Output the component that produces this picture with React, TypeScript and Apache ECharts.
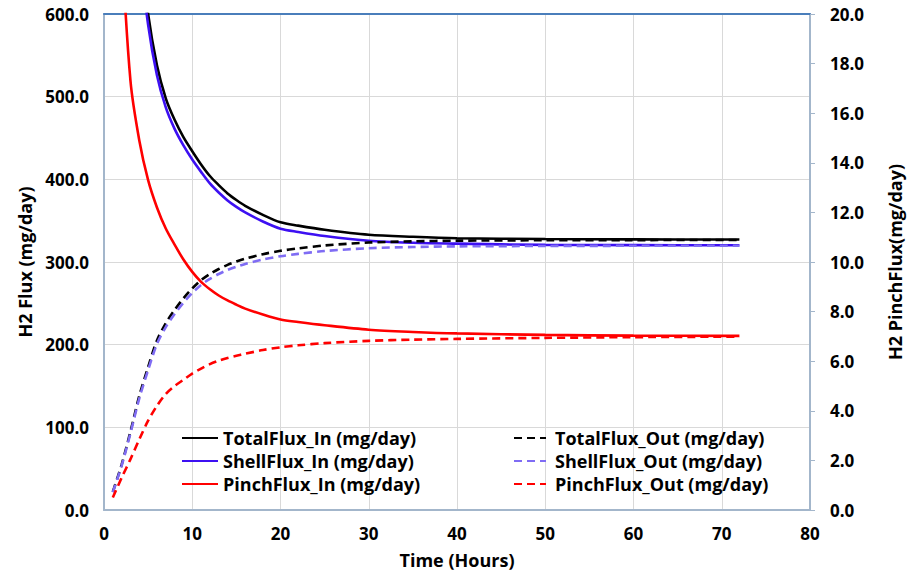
import React, { useEffect, useRef } from "react";
import * as echarts from "echarts";

// Sampled time points (hours)
const hours = [1, 2, 3, 4, 5, 6, 7, 8, 9, 10, 11, 12, 13, 14, 15, 16, 18, 20, 22, 25, 30, 35, 40, 50, 60, 72];

// Left axis series (mg/day)
const totalFluxIn = [1375, 1045, 835, 695, 600, 538, 498, 472, 451, 434, 418, 404, 393, 383, 375, 368, 357, 348, 344, 339, 333, 330.5, 328.8, 327.8, 327.4, 327.2];
const shellFluxIn = [1343, 1022, 817, 680, 587, 526, 487, 461, 441, 424, 409, 395, 384, 374.5, 366.7, 360, 349, 340.3, 336.4, 331.5, 325.7, 323.3, 322.2, 320.7, 320.4, 320.2];
const totalFluxOut = [22, 55, 95, 138, 173, 205, 226, 242, 256, 268, 278, 285.5, 291.5, 296.5, 300.5, 304, 309.5, 313.5, 316.4, 320, 323.5, 325, 325.8, 326.3, 326.5, 326.6];
const shellFluxOut = [21.5, 53.7, 93, 135, 169.4, 200.8, 221.3, 237, 250.7, 262.5, 272.3, 279.6, 285.5, 290.4, 294.3, 297.7, 303.1, 307, 309.8, 313.3, 316.7, 318.1, 318.9, 319.4, 319.6, 319.7];

// Right axis series (mg/day)
const pinchFluxIn = [32, 23, 17.3, 14.9, 13.3, 12.2, 11.35, 10.7, 10.1, 9.6, 9.2, 8.9, 8.65, 8.45, 8.28, 8.12, 7.88, 7.68, 7.58, 7.45, 7.27, 7.18, 7.12, 7.06, 7.03, 7.02];
const pinchFluxOut = [0.5, 1.3, 2.05, 2.85, 3.6, 4.2, 4.68, 5.0, 5.25, 5.5, 5.7, 5.88, 6.02, 6.13, 6.22, 6.3, 6.45, 6.56, 6.64, 6.73, 6.82, 6.87, 6.9, 6.94, 6.97, 6.99];

const FONT = "Open Sans";
const AXIS_GREY = "#a3b6cb";
const GRID_GREY = "#d9d9d9";

const pairs = (vals: number[]) => hours.map((h, i) => [h, vals[i]]);

function lineSeries(name: string, vals: number[], color: string, dashed: boolean, yAxisIndex: number) {
  return {
    name,
    type: "line",
    yAxisIndex,
    data: pairs(vals),
    smooth: 0.3,
    symbol: "none",
    clip: true,
    lineStyle: { color, width: 2.6, type: dashed ? [8, 5] : "solid" },
    itemStyle: { color },
  };
}

export default function App() {
  const ref = useRef<HTMLDivElement>(null);

  useEffect(() => {
    if (!ref.current) return;
    const chart = echarts.init(ref.current, undefined, { renderer: "svg" });
    const labelStyle = { color: "#000", fontFamily: FONT, fontWeight: "bold" as const, fontSize: 17 };
    const nameStyle = { color: "#000", fontFamily: FONT, fontWeight: "bold" as const, fontSize: 18 };
    const legendBase = {
      orient: "vertical",
      top: 424,
      itemHeight: 14,
      itemGap: 5,
      selectedMode: false,
      itemStyle: { opacity: 0 },
    };
    const legendText = { color: "#000", fontFamily: FONT, fontWeight: "bold", fontSize: 18 };

    chart.setOption({
      animation: false,
      backgroundColor: "#fff",
      grid: { left: 104, right: 102, top: 14, bottom: 64 },
      legend: [
        {
          ...legendBase,
          left: 176,
          itemWidth: 36,
          textStyle: legendText,
          data: ["TotalFlux_In (mg/day)", "ShellFlux_In (mg/day)", "PinchFlux_In (mg/day)"],
        },
        {
          ...legendBase,
          left: 508,
          itemWidth: 32,
          textStyle: { ...legendText, padding: [0, 0, 0, 4] },
          data: ["TotalFlux_Out (mg/day)", "ShellFlux_Out (mg/day)", "PinchFlux_Out (mg/day)"],
        },
      ],
      xAxis: [
        {
          type: "value",
          min: 0,
          max: 80,
          interval: 10,
          name: "Time (Hours)",
          nameLocation: "middle",
          nameGap: 41,
          nameTextStyle: nameStyle,
          axisLine: { show: true, onZero: false, lineStyle: { color: AXIS_GREY, width: 2 } },
          axisTick: { show: false },
          axisLabel: { ...labelStyle, margin: 15 },
          splitLine: { show: true, lineStyle: { color: GRID_GREY, width: 1 } },
        },
        {
          type: "value",
          position: "top",
          min: 0,
          max: 80,
          interval: 10,
          axisLine: { show: true, onZero: false, lineStyle: { color: "#4a7ebb", width: 2 } },
          axisTick: { show: false },
          axisLabel: { show: false },
          splitLine: { show: false },
        },
      ],
      yAxis: [
        {
          type: "value",
          min: 0,
          max: 600,
          interval: 100,
          name: "H2 Flux (mg/day)",
          nameLocation: "middle",
          nameRotate: 90,
          nameGap: 63,
          nameTextStyle: nameStyle,
          axisLine: { show: true, onZero: false, lineStyle: { color: AXIS_GREY, width: 2 } },
          axisTick: { show: false },
          axisLabel: { ...labelStyle, margin: 15, formatter: (v: number) => v.toFixed(1) },
          splitLine: { show: true, lineStyle: { color: GRID_GREY, width: 1 } },
        },
        {
          type: "value",
          position: "right",
          min: 0,
          max: 20,
          interval: 2,
          name: "H2 PinchFlux(mg/day)",
          nameLocation: "middle",
          nameRotate: 90,
          nameGap: 76,
          nameTextStyle: nameStyle,
          axisLine: { show: true, onZero: false, lineStyle: { color: AXIS_GREY, width: 2 } },
          axisTick: { show: true, length: 5, lineStyle: { color: AXIS_GREY, width: 1 } },
          axisLabel: { ...labelStyle, margin: 20, formatter: (v: number) => v.toFixed(1) },
          splitLine: { show: false },
        },
      ],
      series: [
        lineSeries("TotalFlux_In (mg/day)", totalFluxIn, "#000000", false, 0),
        lineSeries("ShellFlux_In (mg/day)", shellFluxIn, "#3d10f2", false, 0),
        lineSeries("PinchFlux_In (mg/day)", pinchFluxIn, "#ff0000", false, 1),
        lineSeries("TotalFlux_Out (mg/day)", totalFluxOut, "#000000", true, 0),
        lineSeries("ShellFlux_Out (mg/day)", shellFluxOut, "#7f6cf4", true, 0),
        lineSeries("PinchFlux_Out (mg/day)", pinchFluxOut, "#ff0000", true, 1),
      ],
    });

    return () => chart.dispose();
  }, []);

  return <div ref={ref} style={{ position: "fixed", left: 0, top: 0, width: 912, height: 574 }} />;
}
